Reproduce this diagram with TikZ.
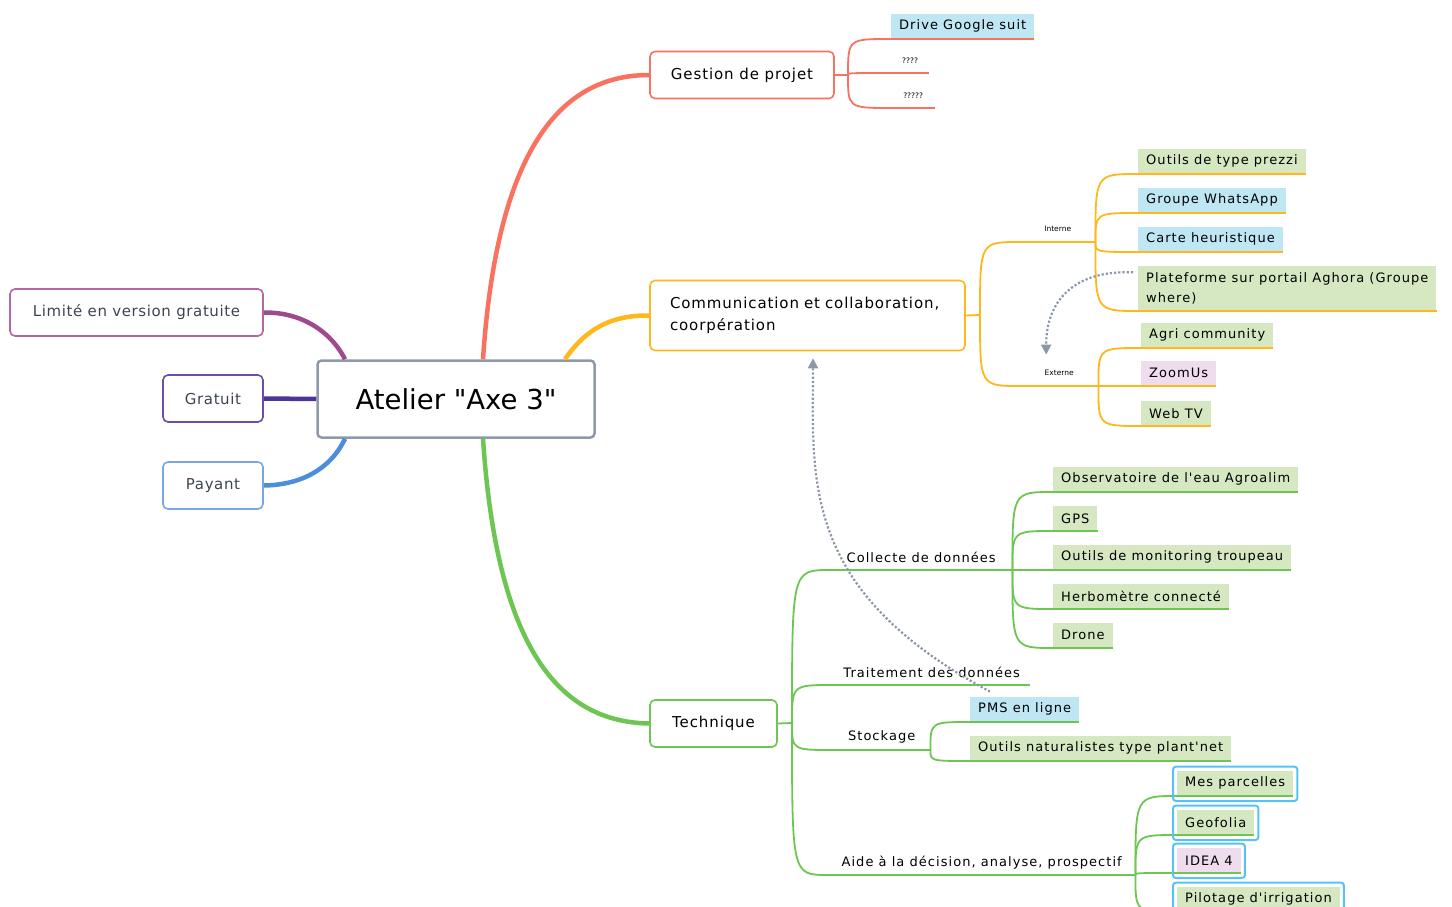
\documentclass[tikz,border=0pt]{standalone}
\usepackage{fontspec}
\setmainfont{DejaVu Sans}[Ligatures=TeXOff]
\newfontfamily\leaffont{DejaVu Sans}[LetterSpace=8,Ligatures=TeXOff]
\newfontfamily\topicfont{DejaVu Sans}[LetterSpace=6,Ligatures=TeXOff]
\newfontfamily\sidefont{DejaVu Sans}[LetterSpace=4,Ligatures=TeXOff]
\usetikzlibrary{arrows.meta,positioning}
\definecolor{redbr}{HTML}{F8725F}
\definecolor{orangebr}{HTML}{FFB71B}
\definecolor{greenbr}{HTML}{6CC651}
\definecolor{plumbr}{HTML}{9E4A8E}
\definecolor{violetbr}{HTML}{4D3499}
\definecolor{bluebr}{HTML}{4C8EDD}
\definecolor{plumbox}{HTML}{B466A6}
\definecolor{violetbox}{HTML}{6A4DAF}
\definecolor{bluebox}{HTML}{78A7E8}
\definecolor{leafgreen}{HTML}{D5E8C2}
\definecolor{leafblue}{HTML}{BEE6F3}
\definecolor{leafpink}{HTML}{EFDDEE}
\definecolor{rootgray}{HTML}{8F9AA8}
\definecolor{linkgray}{HTML}{8D97AA}
\definecolor{selblue}{HTML}{55C3F5}
\definecolor{textgray}{HTML}{3E4550}
\begin{document}
\begin{tikzpicture}
	[x=1pt,y=1pt,
	rootbox/.style={draw=rootgray,line width=2.5pt,rounded corners=4pt,fill=white,minimum width=277pt,minimum height=77pt,font=\fontsize{27.5}{32}\selectfont},
	topicbox/.style={draw=#1,line width=1.6pt,rounded corners=5pt,fill=white,minimum height=47pt,font=\topicfont\fontsize{15}{22}\selectfont},
	sidebox/.style={topicbox=#1,text=textgray,font=\sidefont\fontsize{15}{18}\selectfont},
	leafbox/.style={fill=#1,anchor=south west,inner xsep=8pt,minimum height=25pt,font=\leaffont\fontsize{13}{16}\selectfont},
	subtopic/.style={anchor=south west,inner xsep=8pt,minimum height=25pt,font=\leaffont\fontsize{13}{16}\selectfont},
	smalltxt/.style={anchor=south west,minimum height=25pt,font=\fontsize{7.5}{9}\selectfont},
	branch/.style={draw=#1,line width=4.5pt},
	twig/.style={draw=#1,line width=1.8pt},
	under/.style={draw=#1,line width=2.8pt},
	xref/.style={draw=linkgray,line width=2.2pt,dotted,-{Triangle[length=10pt,width=10pt]}},
	selframe/.style={draw=selblue,line width=2pt,rounded corners=3pt}
	]
	\useasboundingbox (0,0) rectangle (1452,-907);

	\node[rootbox] (atelier) at (456,-399) {Atelier "Axe 3"};
	\node[sidebox=plumbox,minimum width=253pt] (limite) at (136.5,-312.5) {Limité en version gratuite};
	\node[sidebox=violetbox,minimum width=100pt] (gratuit) at (213,-398.5) {Gratuit};
	\node[sidebox=bluebox,minimum width=100pt] (payant) at (213,-485.5) {Payant};
	\node[topicbox=redbr,minimum width=184pt] (gestion) at (742,-75) {Gestion de projet};
	\node[topicbox=orangebr,minimum height=70pt,inner xsep=20pt,text width=275pt,align=left] (comm) at (807.5,-315.5) {Communication et collaboration,\\coorpération};
	\node[topicbox=greenbr,minimum width=127pt] (technique) at (713.5,-723.5) {Technique};

	\draw[branch=plumbr] ([xshift=-111pt]atelier.north) .. controls (330,-330) and (300,-312) .. (limite.east);
	\draw[branch=violetbr] (atelier.west) -- (gratuit.east);
	\draw[branch=bluebr] ([xshift=-111pt]atelier.south) .. controls (330,-470) and (300,-485) .. (payant.east);
	\draw[branch=redbr] ([xshift=27pt]atelier.north) .. controls (497,-150) and (560,-75) .. (gestion.west);
	\draw[branch=orangebr] ([xshift=109pt]atelier.north) .. controls (585,-330) and (610,-315) .. (comm.west);
	\draw[branch=greenbr] ([xshift=27pt]atelier.south) .. controls (497,-650) and (560,-722) .. (technique.west);

	\coordinate (gb) at (848,-75);
	\coordinate (cb) at (980,-315);
	\coordinate (tb) at (792,-723);

	\node[leafbox=leafblue] (drive) at (891,-39) {Drive Google suit};
	\node[smalltxt,minimum width=38pt] (q4) at (891,-73) {????};
	\node[smalltxt,minimum width=44pt] (q5) at (891,-108) {?????};

	\node[smalltxt,minimum width=75pt] (interne) at (1020,-242) {Interne};
	\node[smalltxt,minimum width=78pt] (externe) at (1020,-386) {Externe};
	\node[leafbox=leafgreen] (prezzi) at (1138,-174) {Outils de type prezzi};
	\node[leafbox=leafblue] (whatsapp) at (1138,-213) {Groupe WhatsApp};
	\node[leafbox=leafblue] (carte) at (1138,-252) {Carte heuristique};
	\node[leafbox=leafgreen,minimum height=45pt,align=left,font=\leaffont\fontsize{13}{20}\selectfont] (aghora) at (1138,-311) {Plateforme sur portail Aghora (Groupe\\where)};
	\node[leafbox=leafgreen] (agri) at (1141,-348) {Agri community};
	\node[leafbox=leafpink] (zoomus) at (1141,-386) {ZoomUs};
	\node[leafbox=leafgreen] (webtv) at (1141,-426) {Web TV};

	\node[subtopic,minimum width=182pt] (collecte) at (830,-570) {Collecte de données};
	\node[subtopic,minimum width=197pt] (traitement) at (833,-685) {Traitement des données};
	\node[subtopic,minimum width=97pt] (stockage) at (833,-750) {Stockage};
	\node[subtopic,minimum width=307pt] (aide) at (828,-875) {Aide à la décision, analyse, prospectif};
	\node[leafbox=leafgreen] (obs) at (1053,-492) {Observatoire de l'eau Agroalim};
	\node[leafbox=leafgreen] (gps) at (1053,-531) {GPS};
	\node[leafbox=leafgreen] (monit) at (1053,-570) {Outils de monitoring troupeau};
	\node[leafbox=leafgreen] (herbo) at (1053,-609) {Herbomètre connecté};
	\node[leafbox=leafgreen] (drone) at (1053,-648) {Drone};
	\node[leafbox=leafblue] (pms) at (970,-722) {PMS en ligne};
	\node[leafbox=leafgreen] (natur) at (970,-761) {Outils naturalistes type plant'net};
	\node[leafbox=leafgreen] (mes) at (1177,-796) {Mes parcelles};
	\node[leafbox=leafgreen] (geo) at (1177,-835) {Geofolia};
	\node[leafbox=leafpink] (idea) at (1177,-873) {IDEA 4};
	\node[leafbox=leafgreen] (pilot) at (1177,-912) {Pilotage d'irrigation};

	\draw[twig=redbr] (gestion.east) -- (gb);
	\draw[twig=orangebr] (comm.east) -- (cb);
	\draw[twig=greenbr] (technique.east) -- (tb);

	\foreach \p/\c in {gb/drive,gb/q4,gb/q5}
		{\draw[twig=redbr] (\p) .. controls (\p |- \c.south west) .. (\c.south west);
		\draw[under=redbr] (\c.south west) -- (\c.south east);}
	\foreach \p/\c in {cb/interne,cb/externe,interne.south east/prezzi,interne.south east/whatsapp,interne.south east/carte,interne.south east/aghora,externe.south east/agri,externe.south east/zoomus,externe.south east/webtv}
		{\draw[twig=orangebr] (\p) .. controls (\p |- \c.south west) .. (\c.south west);
		\draw[under=orangebr] (\c.south west) -- (\c.south east);}
	\foreach \p/\c in {tb/collecte,tb/traitement,tb/stockage,tb/aide,collecte.south east/obs,collecte.south east/gps,collecte.south east/monit,collecte.south east/herbo,collecte.south east/drone,stockage.south east/pms,stockage.south east/natur,aide.south east/mes,aide.south east/geo,aide.south east/idea,aide.south east/pilot}
		{\draw[twig=greenbr] (\p) .. controls (\p |- \c.south west) .. (\c.south west);
		\draw[under=greenbr] (\c.south west) -- (\c.south east);}

	\foreach \c in {mes,geo,idea,pilot}
		\draw[selframe] ([shift={(-4pt,4pt)}]\c.north west) rectangle ([shift={(4pt,-5pt)}]\c.south east);

	\draw[xref] ([xshift=-5pt,yshift=16pt]aghora.west) .. controls (1075,-270) and (1046,-300) .. ([xshift=-13pt,yshift=6pt]externe.north);
	\draw[xref] ([xshift=20pt,yshift=5pt]pms.north west) .. controls (800,-590) and (813,-480) .. ([xshift=5.5pt,yshift=-7pt]comm.south);
\end{tikzpicture}
\end{document}
